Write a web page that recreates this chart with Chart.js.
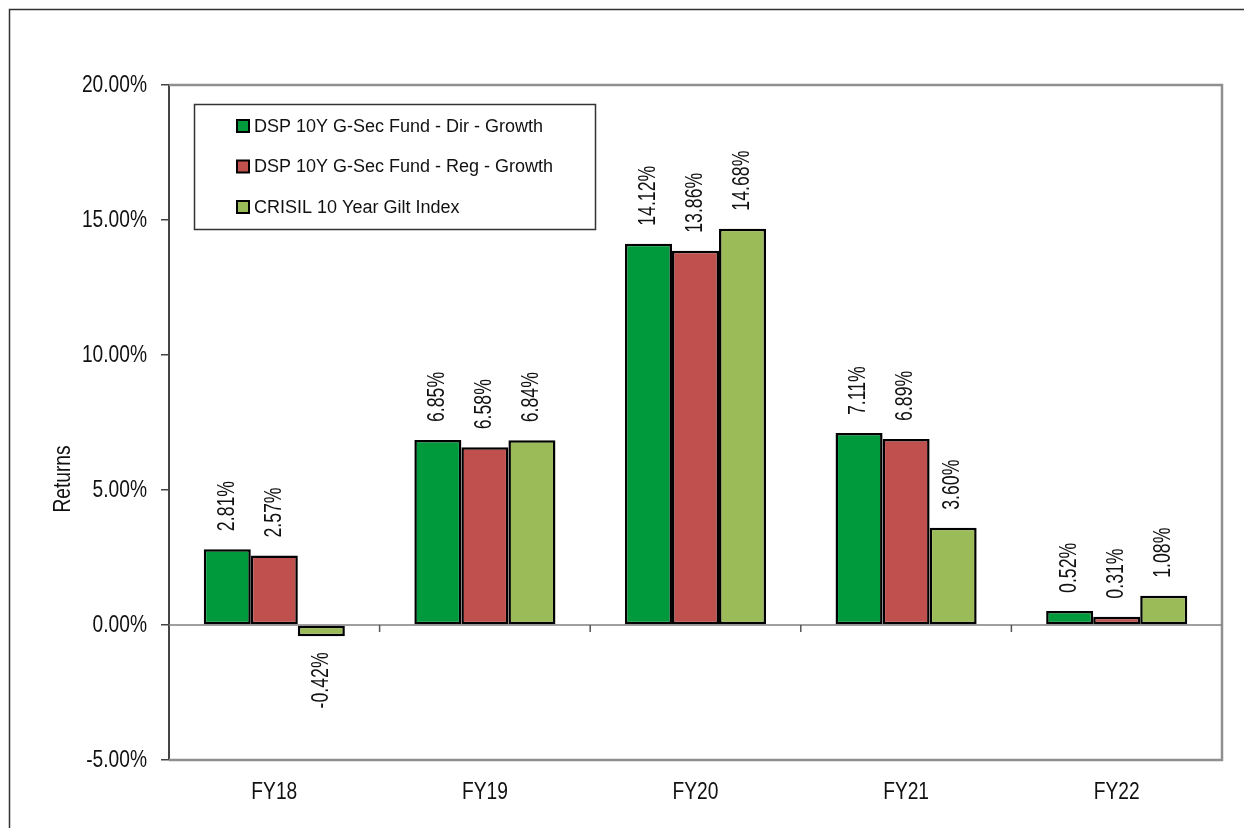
<!DOCTYPE html>
<html>
<head>
<meta charset="utf-8">
<script src="https://cdn.jsdelivr.net/npm/chart.js@4.4.1/dist/chart.umd.min.js"></script>
<style>
  html, body { margin: 0; padding: 0; background: #ffffff; }
  #wrap { position: relative; width: 1244px; height: 828px; }
</style>
</head>
<body>
<div id="wrap"><canvas id="c" width="1244" height="828"></canvas></div>
<script>
const categories = ['FY18', 'FY19', 'FY20', 'FY21', 'FY22'];
const seriesNames = ['DSP 10Y G-Sec Fund - Dir - Growth', 'DSP 10Y G-Sec Fund - Reg - Growth', 'CRISIL 10 Year Gilt Index'];
const dirGrowth = [2.81, 6.85, 14.12, 7.11, 0.52];
const regGrowth = [2.57, 6.58, 13.86, 6.89, 0.31];
const crisilGilt = [-0.42, 6.84, 14.68, 3.60, 1.08];
const yTicks = [-5, 0, 5, 10, 15, 20];
const axisTitle = 'Returns';

const colors = ['#009A3D', '#C0504D', '#9BBB59'];
// "NarrowA"/"NarrowB" are marker names (not real fonts): text in them is drawn
// with Liberation Sans, horizontally condensed to imitate Arial Narrow.
const NARROW_A = "'Liberation Sans', NarrowA, sans-serif";
const NARROW_B = "'Liberation Sans', NarrowB, sans-serif";
const SANS = "'Liberation Sans', Arial, sans-serif";

(function patchCondensed() {
  const proto = CanvasRenderingContext2D.prototype;
  const orig = proto.fillText;
  proto.fillText = function (text, x, y, maxWidth) {
    let k = 0;
    if (this.font.indexOf('NarrowA') >= 0) k = 0.8;
    else if (this.font.indexOf('NarrowB') >= 0) k = 0.77;
    if (!k) return maxWidth === undefined ? orig.call(this, text, x, y) : orig.call(this, text, x, y, maxWidth);
    this.save();
    this.translate(x, y);
    this.scale(k, 1);
    if (maxWidth === undefined) orig.call(this, text, 0, 0);
    else orig.call(this, text, 0, 0, maxWidth / k);
    this.restore();
  };
})();

const framePlugin = {
  id: 'frame',
  beforeDraw(chart) {
    const ctx = chart.ctx;
    ctx.save();
    ctx.fillStyle = '#ffffff';
    ctx.fillRect(0, 0, chart.width, chart.height);
    ctx.strokeStyle = '#333333';
    ctx.lineWidth = 1.5;
    ctx.strokeRect(9.5, 9.5, chart.width + 20, chart.height + 20);
    ctx.restore();
  },
  beforeDatasetsDraw(chart) {
    const ctx = chart.ctx;
    const a = chart.chartArea;
    const y = chart.scales.y;
    const x = chart.scales.x;
    const y0 = y.getPixelForValue(0);
    ctx.save();
    ctx.strokeStyle = '#8f8f8f';
    ctx.lineWidth = 2.5;
    ctx.beginPath();
    ctx.moveTo(a.left, a.top);
    ctx.lineTo(a.right, a.top);
    ctx.lineTo(a.right, a.bottom);
    ctx.lineTo(a.left, a.bottom);
    ctx.stroke();
    ctx.strokeStyle = '#7f7f7f';
    ctx.lineWidth = 1.5;
    ctx.beginPath();
    ctx.moveTo(a.left, y0);
    ctx.lineTo(a.right, y0);
    ctx.stroke();
    ctx.strokeStyle = '#555555';
    ctx.lineWidth = 1.5;
    for (let i = 1; i < categories.length; i++) {
      const bx = (x.getPixelForTick(i - 1) + x.getPixelForTick(i)) / 2;
      ctx.beginPath();
      ctx.moveTo(bx, y0);
      ctx.lineTo(bx, y0 + 7);
      ctx.stroke();
    }
    ctx.restore();
  },
  afterDatasetsDraw(chart) {
    const ctx = chart.ctx;
    ctx.save();
    ctx.fillStyle = '#111111';
    ctx.font = '23px ' + NARROW_B;
    ctx.textBaseline = 'middle';
    chart.data.datasets.forEach((ds, di) => {
      const meta = chart.getDatasetMeta(di);
      meta.data.forEach((bar, i) => {
        const v = ds.data[i];
        const txt = v.toFixed(2) + '%';
        ctx.save();
        if (v >= 0) {
          ctx.translate(bar.x, Math.min(bar.y, bar.base) - 18);
          ctx.rotate(-Math.PI / 2);
          ctx.textAlign = 'left';
        } else {
          ctx.translate(bar.x, Math.max(bar.y, bar.base) + 16);
          ctx.rotate(-Math.PI / 2);
          ctx.textAlign = 'right';
        }
        ctx.fillText(txt, 0, 0);
        ctx.restore();
      });
    });
    ctx.save();
    ctx.font = '24px ' + NARROW_A;
    ctx.translate(63, 479);
    ctx.rotate(-Math.PI / 2);
    ctx.textAlign = 'center';
    ctx.fillText(axisTitle, 0, 0);
    ctx.restore();
    const lx = 194.5, ly = 104.5, lw = 401, lh = 125;
    ctx.fillStyle = '#ffffff';
    ctx.fillRect(lx, ly, lw, lh);
    ctx.strokeStyle = '#333333';
    ctx.lineWidth = 1.5;
    ctx.strokeRect(lx, ly, lw, lh);
    ctx.font = '18px ' + SANS;
    ctx.textAlign = 'left';
    ctx.textBaseline = 'middle';
    chart.data.datasets.forEach((ds, di) => {
      const cy = 126 + di * 40.5;
      ctx.fillStyle = ds.backgroundColor;
      ctx.fillRect(237, cy - 6, 12, 12);
      ctx.strokeStyle = '#000000';
      ctx.lineWidth = 2;
      ctx.strokeRect(237, cy - 6, 12, 12);
      ctx.fillStyle = '#111111';
      ctx.fillText(ds.label, 254, cy + 1);
    });
    ctx.restore();
  }
};

const seriesValues = [dirGrowth, regGrowth, crisilGilt];

new Chart(document.getElementById('c'), {
  type: 'bar',
  data: {
    labels: categories,
    datasets: seriesValues.map((vals, i) => ({
      label: seriesNames[i],
      data: vals,
      backgroundColor: colors[i],
      borderColor: '#000000',
      borderWidth: 2.5,
      borderSkipped: false,
      categoryPercentage: 0.67,
      barPercentage: 1.0
    }))
  },
  options: {
    responsive: false,
    animation: false,
    devicePixelRatio: 1,
    layout: { padding: { left: 0, right: 22, top: 85, bottom: 0 } },
    plugins: {
      legend: { display: false },
      tooltip: { enabled: false }
    },
    scales: {
      x: {
        grid: { display: false, drawTicks: false },
        border: { display: false },
        ticks: {
          color: '#111111',
          padding: 18,
          font: { family: NARROW_A, size: 24 }
        },
        afterFit(scale) { scale.height = 68; }
      },
      y: {
        min: -5,
        max: 20,
        afterBuildTicks(scale) { scale.ticks = yTicks.map(v => ({ value: v })); },
        grid: {
          drawOnChartArea: false,
          drawTicks: true,
          tickLength: 8,
          tickColor: '#444444',
          lineWidth: 1.5
        },
        border: { display: true, color: '#444444', width: 2 },
        ticks: {
          color: '#111111',
          padding: 14,
          font: { family: NARROW_A, size: 24 },
          callback: (v) => Number(v).toFixed(2) + '%'
        },
        afterFit(scale) { scale.width = 169; }
      }
    }
  },
  plugins: [framePlugin]
});
</script>
</body>
</html>
